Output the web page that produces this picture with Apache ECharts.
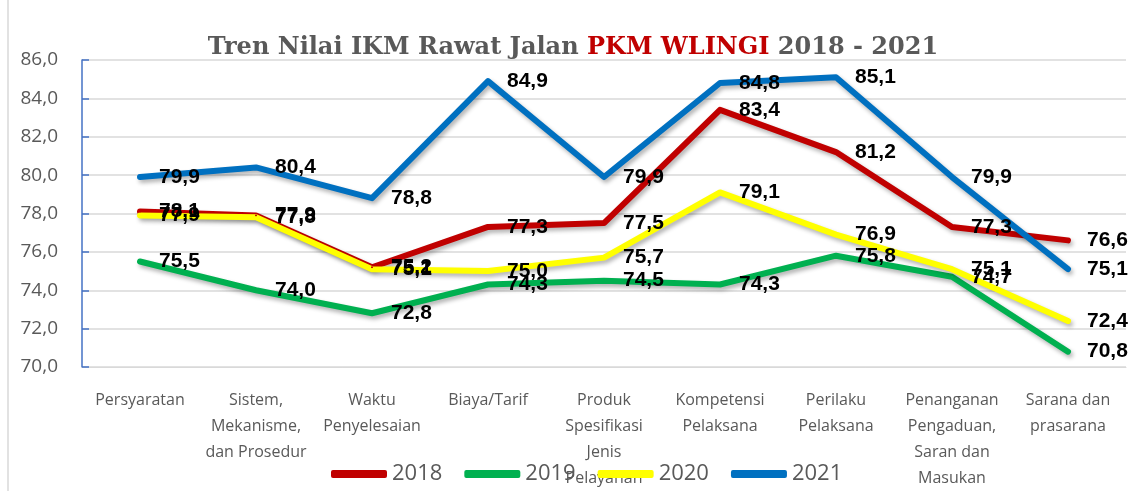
<!DOCTYPE html>
<html>
<head>
<meta charset="utf-8">
<script src="https://cdn.jsdelivr.net/npm/echarts@6/dist/echarts.min.js"></script>
<style>
    html, body { margin: 0; padding: 0; background: #fff; }
    #chart { width: 1146px; height: 491px; }
</style>
</head>
<body>
<div id="chart"></div>
<script>
var categories = ['Persyaratan', 'Sistem,\nMekanisme,\ndan Prosedur', 'Waktu\nPenyelesaian', 'Biaya/Tarif',
    'Produk\nSpesifikasi\nJenis\nPelayanan', 'Kompetensi\nPelaksana', 'Perilaku\nPelaksana',
    'Penanganan\nPengaduan,\nSaran dan\nMasukan', 'Sarana dan\nprasarana'];
var years = ['2018', '2019', '2020', '2021'];
var colors = ['#C00000', '#00B050', '#FFFF00', '#0070C0'];
var data2018 = [78.1, 77.9, 75.2, 77.3, 77.5, 83.4, 81.2, 77.3, 76.6];
var data2019 = [75.5, 74.0, 72.8, 74.3, 74.5, 74.3, 75.8, 74.7, 70.8];
var data2020 = [77.9, 77.8, 75.1, 75.0, 75.7, 79.1, 76.9, 75.1, 72.4];
var data2021 = [79.9, 80.4, 78.8, 84.9, 79.9, 84.8, 85.1, 79.9, 75.1];
var yMin = 70, yMax = 86, yStep = 2;

function comma(v) {
    return Number(v).toFixed(1).replace('.', ',');
}

var allData = [data2018, data2019, data2020, data2021];
var series = years.map(function (name, i) {
    return {
        name: name,
        type: 'line',
        data: allData[i],
        symbol: 'circle',
        symbolSize: 2,
        itemStyle: { color: colors[i] },
        lineStyle: {
            width: 6,
            color: colors[i],
            cap: 'round',
            join: 'round',
            shadowColor: 'rgba(0,0,0,0.3)',
            shadowBlur: 4,
            shadowOffsetX: 2,
            shadowOffsetY: 3
        },
        label: {
            show: true,
            position: 'right',
            distance: 18,
            color: '#000',
            fontFamily: 'Liberation Sans',
            fontWeight: 'bold',
            fontSize: 21,
            formatter: function (p) { return comma(p.value); }
        },
        emphasis: { disabled: true }
    };
});

var myChart = echarts.init(document.getElementById('chart'));
var option = {
    animation: false,
    title: {
        left: 'center',
        top: 31,
        text: '{g|Tren Nilai IKM Rawat Jalan }{r|PKM WLINGI}{g| 2018 - 2021}',
        textStyle: {
            rich: {
                g: { fontFamily: 'DejaVu Serif', fontWeight: 'bold', fontSize: 24, color: '#595959' },
                r: { fontFamily: 'DejaVu Serif', fontWeight: 'bold', fontSize: 24, color: '#C00000' }
            }
        }
    },
    grid: { left: 82, right: 20, top: 60, bottom: 115 },
    legend: {
        left: 326,
        top: 458,
        icon: 'roundRect',
        itemWidth: 56,
        itemHeight: 8,
        itemGap: 22,
        textStyle: { fontFamily: 'Open Sans', fontSize: 22, color: '#595959' },
        data: years
    },
    xAxis: {
        type: 'category',
        data: categories,
        boundaryGap: true,
        axisLine: { lineStyle: { color: '#d9d9d9' } },
        axisTick: { show: false },
        axisLabel: {
            interval: 0,
            margin: 20,
            color: '#595959',
            fontFamily: 'Open Sans',
            fontSize: 16,
            lineHeight: 26
        }
    },
    yAxis: {
        type: 'value',
        min: yMin,
        max: yMax,
        interval: yStep,
        axisLine: { show: true, lineStyle: { color: '#4472C4', width: 1.5 } },
        axisTick: { show: true, inside: true, length: 7, lineStyle: { color: '#4472C4', width: 1.5 } },
        splitLine: { lineStyle: { color: '#d9d9d9', width: 1.5 } },
        axisLabel: {
            margin: 24,
            color: '#595959',
            fontFamily: 'Open Sans',
            fontSize: 19,
            formatter: comma
        }
    },
    graphic: [{
        type: 'line',
        shape: { x1: 8, y1: 0, x2: 8, y2: 491 },
        style: { stroke: '#d9d9d9', lineWidth: 1.5 }
    }],
    series: series
};
myChart.setOption(option);
</script>
</body>
</html>
